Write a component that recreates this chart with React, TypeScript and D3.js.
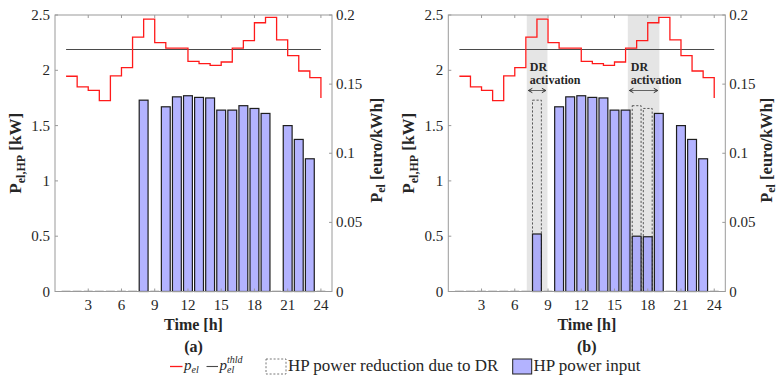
import React from "react";
import * as d3 from "d3";

const hours = [1, 2, 3, 4, 5, 6, 7, 8, 9, 10, 11, 12, 13, 14, 15, 16, 17, 18, 19, 20, 21, 22, 23, 24];
const hpPowerBase = [0, 0, 0, 0, 0, 0, 0, 1.73, 0, 1.67, 1.76, 1.77, 1.755, 1.75, 1.64, 1.64, 1.68, 1.655, 1.61, 0, 1.5, 1.375, 1.2, 0];
const hpPowerDR = [0, 0, 0, 0, 0, 0, 0, 0.52, 0, 1.67, 1.76, 1.77, 1.755, 1.75, 1.64, 1.64, 0.5, 0.495, 1.61, 0, 1.5, 1.375, 1.2, 0];
const drHours = [8, 17, 18];
const price = [0.1557, 0.148, 0.1455, 0.138, 0.156, 0.162, 0.184, 0.197, 0.18, 0.176, 0.176, 0.1665, 0.1648, 0.1636, 0.166, 0.176, 0.1814, 0.1944, 0.1983, 0.182, 0.1706, 0.1595, 0.1547, 0.14];
const priceThreshold = 0.175;
const drWindows: [number, number][] = [[7.08, 8.95], [16.2, 19.05]];
const xTicks = [3, 6, 9, 12, 15, 18, 21, 24];
const yLeftTicks = [0, 0.5, 1, 1.5, 2, 2.5];
const yLeftLabels = ["0", "0.5", "1", "1.5", "2", "2.5"];
const yRightTicks = [0, 0.05, 0.1, 0.15, 0.2];
const yRightLabels = ["0", "0.05", "0.1", "0.15", "0.2"];

const FONT = "'Liberation Serif', serif";
const W = 277;
const H = 276.5;
const TOP = 15;
const AXIS = "#9a9a9a";
const TXT = "#262626";
const F = { fontFamily: FONT };

type PanelProps = {
  x0: number;
  bars: number[];
  dashed: number[];
  shades: [number, number][];
  label: string;
  rLabelOff: number;
};

function Panel({ x0, bars, dashed, shades, label, rLabelOff }: PanelProps) {
  const xS = d3.scaleLinear().domain([0, 25]).range([0, W]);
  const yL = d3.scaleLinear().domain([0, 2.5]).range([H, 0]);
  const yR = d3.scaleLinear().domain([0, 0.2]).range([H, 0]);
  const bw = xS(0.8) - xS(0);
  const pts: [number, number][] = hours.map((h, i) => [h, price[i]]);
  const stair = d3
    .line<[number, number]>()
    .x((d) => xS(d[0]))
    .y((d) => yR(d[1]))
    .curve(d3.curveStepAfter)(pts) as string;

  return (
    <g transform={`translate(${x0},${TOP})`} style={F}>
      {shades.map(([a, b], i) => (
        <rect key={"s" + i} x={xS(a)} y={0} width={xS(b) - xS(a)} height={H} fill="#e5e5e5" />
      ))}
      {dashed.map((h) => {
        const v = hpPowerBase[hours.indexOf(h)];
        return (
          <rect
            key={"d" + h}
            x={xS(h) - bw / 2}
            y={yL(v)}
            width={bw}
            height={yL(0) - yL(v)}
            fill="none"
            stroke="#333"
            strokeWidth={0.8}
            strokeDasharray="2.2,1.8"
          />
        );
      })}
      {hours.map((h, i) =>
        bars[i] > 0 ? (
          <rect
            key={"b" + h}
            x={xS(h) - bw / 2}
            y={yL(bars[i])}
            width={bw}
            height={yL(0) - yL(bars[i])}
            fill="rgb(150,150,255)"
            fillOpacity={0.72}
            stroke="#1e1e1e"
            strokeWidth={1.2}
          />
        ) : (
          <line key={"b" + h} x1={xS(h) - bw / 2} x2={xS(h) + bw / 2} y1={H - 0.5} y2={H - 0.5} stroke="#bbb" strokeWidth={1} />
        )
      )}
      <line x1={xS(1)} x2={xS(24)} y1={yR(priceThreshold)} y2={yR(priceThreshold)} stroke="#4a4a4a" strokeWidth={1.1} />
      <path d={stair} fill="none" stroke="#ff1a1a" strokeWidth={1.3} />
      <rect x={0} y={0} width={W} height={H} fill="none" stroke={AXIS} strokeWidth={1} />
      {xTicks.map((t) => (
        <g key={"xt" + t}>
          <line x1={xS(t)} x2={xS(t)} y1={H} y2={H - 3} stroke={AXIS} />
          <line x1={xS(t)} x2={xS(t)} y1={0} y2={3} stroke={AXIS} />
          <text x={xS(t)} y={H + 18.5} textAnchor="middle" fontSize={15} fill={TXT} style={F}>
            {t}
          </text>
        </g>
      ))}
      {yLeftTicks.map((t, i) => (
        <g key={"yl" + t}>
          <line x1={0} x2={3} y1={yL(t)} y2={yL(t)} stroke={AXIS} />
          <text x={-5} y={yL(t) + 5} textAnchor="end" fontSize={15} fill={TXT} style={F}>
            {yLeftLabels[i]}
          </text>
        </g>
      ))}
      {yRightTicks.map((t, i) => (
        <g key={"yr" + t}>
          <line x1={W} x2={W - 3} y1={yR(t)} y2={yR(t)} stroke={AXIS} />
          <text x={W + 4} y={yR(t) + 5} textAnchor="start" fontSize={15} fill={TXT} style={F}>
            {yRightLabels[i]}
          </text>
        </g>
      ))}
      {shades.map(([a, b], i) => {
        const ax = xS(a) + 1.6;
        const bx = xS(b) - 1.6;
        const yy = 75.5;
        return (
          <g key={"dr" + i}>
            <text x={xS(a) + 3} y={56} fontSize={12} fontWeight="bold" fill={TXT} style={F}>
              DR
            </text>
            <text x={xS(a) + 3} y={69} fontSize={12} fontWeight="bold" fill={TXT} style={F}>
              activation
            </text>
            <line x1={ax} x2={bx} y1={yy} y2={yy} stroke="#555" strokeWidth={0.9} />
            <path d={`M${ax + 4},${yy - 2.2} L${ax},${yy} L${ax + 4},${yy + 2.2}`} fill="none" stroke="#333" strokeWidth={1} />
            <path d={`M${bx - 4},${yy - 2.2} L${bx},${yy} L${bx - 4},${yy + 2.2}`} fill="none" stroke="#333" strokeWidth={1} />
          </g>
        );
      })}
      <text x={W / 2} y={H + 38} textAnchor="middle" fontSize={16} fontWeight="bold" fill={TXT} style={F}>
        Time [h]
      </text>
      <text x={W / 2} y={H + 60.5} textAnchor="middle" fontSize={16} fontWeight="bold" fill={TXT} style={F}>
        {label}
      </text>
      <text
        transform={`translate(-34,${H / 2}) rotate(-90)`}
        textAnchor="middle"
        fontSize={17}
        fontWeight="bold"
        fill={TXT}
        style={F}
      >
        P<tspan fontSize={12} dy={4}>el,HP</tspan>
        <tspan dy={-4}> [kW]</tspan>
      </text>
      <text
        transform={`translate(${W + rLabelOff},${H / 2 - 3}) rotate(-90)`}
        textAnchor="middle"
        fontSize={16.5}
        fontWeight="bold"
        fill={TXT}
        style={F}
      >
        P<tspan fontSize={12} dy={3}>el</tspan>
        <tspan dy={-3}> [euro/kWh]</tspan>
      </text>
    </g>
  );
}

export default function App() {
  const legY = 366.5;
  return (
    <svg width={778} height={376} style={{ position: "absolute", left: 0, top: 0, background: "#fff" }}>
      <Panel x0={55} bars={hpPowerBase} dashed={[]} shades={[]} label="(a)" rLabelOff={50} />
      <Panel x0={448.3} bars={hpPowerDR} dashed={drHours} shades={drWindows} label="(b)" rLabelOff={47} />
      <g style={F} fill={TXT}>
        <line x1={170} x2={182.5} y1={legY} y2={legY} stroke="#ff1a1a" strokeWidth={1.3} />
        <text x={184} y={370} fontSize={15} fontStyle="italic" style={F}>
          p<tspan fontSize={10} dy={3}>el</tspan>
        </text>
        <line x1={206.5} x2={218} y1={legY} y2={legY} stroke="#4a4a4a" strokeWidth={1.1} />
        <text x={219.5} y={370} fontSize={15} fontStyle="italic" style={F}>
          p<tspan fontSize={10} dy={3}>el</tspan>
          <tspan fontSize={10} x={227} dy={-10}>thld</tspan>
        </text>
        <rect x={266} y={359} width={20} height={15} fill="none" stroke="#555" strokeWidth={0.8} strokeDasharray="2,1.8" />
        <text x={288} y={370.5} fontSize={17} style={F}>
          HP power reduction due to DR
        </text>
        <rect x={512.7} y={359} width={19} height={15} fill="rgb(150,150,255)" fillOpacity={0.72} stroke="#1e1e1e" strokeWidth={1} />
        <text x={533.5} y={370.5} fontSize={17} style={F}>
          HP power input
        </text>
      </g>
    </svg>
  );
}
